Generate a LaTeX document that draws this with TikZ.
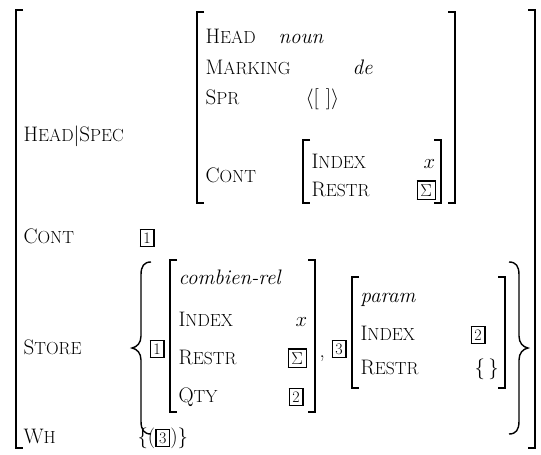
\documentclass[tikz,border=0pt]{standalone}
\usepackage{fontspec}
\newcommand{\tagnum}[1]{{\setlength{\fboxsep}{2.6pt}\setlength{\fboxrule}{1.2pt}\fbox{\fontsize{16}{16}\selectfont #1}}}
\newcommand{\featname}[2]{{\fontsize{21}{23}\selectfont #1}{\fontsize{17.5}{19}\selectfont #2}}
\begin{document}
\begin{tikzpicture}[x=1pt,y=-1pt,line width=1.2pt,
  feat/.style={anchor=base west,inner sep=0pt},
  val/.style={anchor=base west,inner sep=0pt,font=\fontsize{21}{23}\selectfont}]
\useasboundingbox (0,0) rectangle (541,455);

\coordinate (outer-top-left) at (16,10);
\coordinate (outer-bottom-left) at (16,448);
\coordinate (outer-top-right) at (535,10);
\coordinate (outer-bottom-right) at (535,448);

\coordinate (spec-top-left) at (197,12);
\coordinate (spec-bottom-left) at (197,203);
\coordinate (spec-top-right) at (455,12);
\coordinate (spec-bottom-right) at (455,203);

\coordinate (cont-top-left) at (303,140);
\coordinate (cont-bottom-left) at (303,203);
\coordinate (cont-top-right) at (441,140);
\coordinate (cont-bottom-right) at (441,203);

\coordinate (combien-top-left) at (170,260);
\coordinate (combien-bottom-left) at (170,412);
\coordinate (combien-top-right) at (315,260);
\coordinate (combien-bottom-right) at (315,412);

\coordinate (param-top-left) at (352,277);
\coordinate (param-bottom-left) at (352,388);
\coordinate (param-top-right) at (505,277);
\coordinate (param-bottom-right) at (505,388);

\coordinate (store-open-top) at (151,262);
\coordinate (store-open-tip) at (132,348);
\coordinate (store-open-bottom) at (151,434);
\coordinate (store-close-top) at (509,262);
\coordinate (store-close-tip) at (528,348);
\coordinate (store-close-bottom) at (509,434);

\draw ([xshift=7]outer-top-left) -- (outer-top-left) -- (outer-bottom-left) -- ([xshift=7]outer-bottom-left);
\draw ([xshift=-7]outer-top-right) -- (outer-top-right) -- (outer-bottom-right) -- ([xshift=-7]outer-bottom-right);

\draw ([xshift=7]spec-top-left) -- (spec-top-left) -- (spec-bottom-left) -- ([xshift=7]spec-bottom-left);
\draw ([xshift=-7]spec-top-right) -- (spec-top-right) -- (spec-bottom-right) -- ([xshift=-7]spec-bottom-right);

\draw ([xshift=7]cont-top-left) -- (cont-top-left) -- (cont-bottom-left) -- ([xshift=7]cont-bottom-left);
\draw ([xshift=-7]cont-top-right) -- (cont-top-right) -- (cont-bottom-right) -- ([xshift=-7]cont-bottom-right);

\draw ([xshift=7]combien-top-left) -- (combien-top-left) -- (combien-bottom-left) -- ([xshift=7]combien-bottom-left);
\draw ([xshift=-7]combien-top-right) -- (combien-top-right) -- (combien-bottom-right) -- ([xshift=-7]combien-bottom-right);

\draw ([xshift=7]param-top-left) -- (param-top-left) -- (param-bottom-left) -- ([xshift=7]param-bottom-left);
\draw ([xshift=-7]param-top-right) -- (param-top-right) -- (param-bottom-right) -- ([xshift=-7]param-bottom-right);

% braces round the STORE set
\draw[line width=1.4pt] (store-open-top) .. controls ([xshift=-7]store-open-top) and (141,266) .. (141,275)
  -- (141,336) .. controls (141,343) and (137,347) .. (store-open-tip)
  .. controls (137,349) and (141,353) .. (141,360)
  -- (141,421) .. controls (141,430) and ([xshift=-7]store-open-bottom) .. (store-open-bottom);
\draw[line width=1.4pt] (store-close-top) .. controls ([xshift=7]store-close-top) and (519,266) .. (519,275)
  -- (519,336) .. controls (519,343) and (523,347) .. (store-close-tip)
  .. controls (523,349) and (519,353) .. (519,360)
  -- (519,421) .. controls (519,430) and ([xshift=7]store-close-bottom) .. (store-close-bottom);

\node[feat] (head-spec) at (23,141) {\featname{H}{EAD}{\fontsize{21}{23}\selectfont$|$}\featname{S}{PEC}};
\node[feat] (head) at (205,43) {\featname{H}{EAD}};
\node[val] (noun) at (278,43) {\emph{noun}};
\node[feat] (marking) at (205,74) {\featname{M}{ARKING}};
\node[val] (de) at (352,74) {\emph{de}};
\node[feat] (spr) at (205,104) {\featname{S}{PR}};
\node[val] (spr-list) at (305,104) {$\langle$[\,\,]$\rangle$};
\node[feat] (cont-inner) at (205,182) {\featname{C}{ONT}};
\node[feat] (index-inner) at (311,168) {\featname{I}{NDEX}};
\node[val] (index-inner-x) at (423,168) {$x$};
\node[feat] (restr-inner) at (311,196) {\featname{R}{ESTR}};
\node[val] (restr-inner-sum) at (416,196) {\tagnum{$\Sigma$}};

\node[feat] (cont) at (23,243) {\featname{C}{ONT}};
\node[val] (cont-tag) at (139,243) {\tagnum{1}};

\node[feat] (store) at (23,354) {\featname{S}{TORE}};
\node[val] (store-tag-one) at (149,354) {\tagnum{1}};
\node[val] (combien-rel) at (178,284) {\emph{combien-rel}};
\node[feat] (index-combien) at (178,326) {\featname{I}{NDEX}};
\node[val] (index-combien-x) at (295,326) {$x$};
\node[feat] (restr-combien) at (178,364) {\featname{R}{ESTR}};
\node[val] (restr-combien-sum) at (287,364) {\tagnum{$\Sigma$}};
\node[feat] (qty) at (178,402) {\featname{Q}{TY}};
\node[val] (qty-tag) at (288,402) {\tagnum{2}};
\node[val] (comma) at (319,357) {,};
\node[val] (store-tag-three) at (331,354) {\tagnum{3}};
\node[val] (param) at (360,302) {\emph{param}};
\node[feat] (index-param) at (360,340) {\featname{I}{NDEX}};
\node[val] (index-param-tag) at (470,340) {\tagnum{2}};
\node[feat] (restr-param) at (360,374) {\featname{R}{ESTR}};
\node[val] (restr-param-set) at (474,374) {$\{\,\}$};

\node[feat] (wh) at (23,443) {\featname{W}{H}};
\node[val] (wh-set) at (137,443) {$\{($\tagnum{3}$)\}$};

\end{tikzpicture}
\end{document}
